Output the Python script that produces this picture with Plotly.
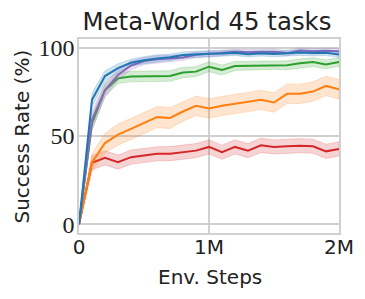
import plotly.graph_objects as go

steps = [i * 100000 for i in range(21)]

blue = [0, 70.5, 84, 88.5, 91.5, 93, 94, 94.6, 95.9, 96.4, 96.6, 96.8, 97.2, 96.4, 96.9, 96.5, 97.0, 97.3, 97.0, 97.2, 96.2]
blue_sd = [0, 4, 3, 2.5, 2, 2, 2, 1.8, 1.8, 1.8, 1.8, 1.6, 1.6, 1.6, 1.6, 1.6, 1.6, 1.6, 1.6, 1.6, 1.6]
purple = [0, 59, 76, 84.6, 90, 92.5, 93.5, 94, 94.5, 96, 96.5, 97, 97.7, 97.5, 97.6, 97.8, 97, 98.5, 98, 98.3, 98.1]
purple_sd = [0, 5, 4, 3, 2.5, 2, 2, 1.8, 1.6, 1.6, 1.5, 1.5, 1.5, 1.5, 1.5, 1.5, 1.5, 1.5, 1.5, 1.5, 1.5]
green = [0, 57.3, 76, 82.7, 83.7, 83.9, 84, 84, 86, 86.5, 89.3, 87.4, 89.7, 89.9, 90.1, 90.3, 90.1, 91.2, 91.9, 90.6, 92]
green_sd = [0, 4, 3.5, 3, 3, 3, 3, 3, 3, 2.8, 2.8, 2.8, 2.5, 2.5, 2.5, 2.5, 2.5, 2.5, 2.5, 2.5, 2.5]
orange = [0, 35, 46, 50.8, 54, 57.3, 60.7, 60.2, 63.9, 67.1, 65.6, 67.1, 68.2, 69.2, 70.5, 69, 73.9, 73.9, 75.2, 78.4, 76.5]
orange_sd = [0, 5, 5.5, 6, 6, 6, 6, 6, 5.5, 5.5, 5.5, 5.5, 5.5, 5.5, 5.5, 5.5, 5.5, 5.5, 5.5, 5.5, 5.5]
red = [0, 34.8, 37.6, 35.2, 38, 38.9, 39.9, 40, 40.8, 41.7, 43.8, 40.8, 43.8, 41.7, 44.7, 43.8, 44.2, 44.5, 44.2, 41.3, 42.7]
red_sd = [0, 4, 4, 4, 4, 4, 4, 4, 4, 4, 4, 4, 4, 4, 4, 4, 4, 4, 4, 4, 4]

x_ticks = [0, 1000000, 2000000]
x_labels = ["0", "1M", "2M"]
y_ticks = [0, 50, 100]

series = [
    (red, red_sd, "#d62728", "rgba(214,39,40,0.2)"),
    (orange, orange_sd, "#ff7f0e", "rgba(255,127,14,0.2)"),
    (green, green_sd, "#2ca02c", "rgba(44,160,44,0.2)"),
    (purple, purple_sd, "#9467bd", "rgba(148,103,189,0.2)"),
    (blue, blue_sd, "#1f77b4", "rgba(31,119,180,0.2)"),
]

fig = go.Figure()
for vals, sd, col, fcol in series:
    upper = [v + s for v, s in zip(vals, sd)]
    lower = [v - s for v, s in zip(vals, sd)]
    fig.add_trace(go.Scatter(x=steps + steps[::-1], y=upper + lower[::-1], fill="toself",
                             fillcolor=fcol, line=dict(color=fcol, width=1), mode="lines",
                             hoverinfo="skip", showlegend=False))
    fig.add_trace(go.Scatter(x=steps, y=vals, mode="lines", line=dict(color=col, width=2),
                             showlegend=False))

W, H = 357, 291
L, R, T, B = 71, 26, 31, 66
pw, ph = W - L - R, H - T - B

grid = "#d0d0d0"
txt = "#222"
fig.update_layout(
    width=W, height=H,
    margin=dict(l=L, r=R, t=T, b=B, autoexpand=False),
    plot_bgcolor="white", paper_bgcolor="white",
    title=dict(text="Meta-World 45 tasks", x=199 / W, xanchor="center", y=1 - 5 / H, yanchor="top",
               font=dict(family="DejaVu Sans", size=24.4, color=txt)),
    xaxis=dict(range=[0, 2000000], tickvals=x_ticks, ticktext=x_labels,
               showgrid=True, gridcolor=grid, gridwidth=1.5, zeroline=False, automargin=False,
               showline=True, linecolor=grid, linewidth=1.5, mirror=True, ticks="",
               ticklabelstandoff=-5,
               tickfont=dict(family="DejaVu Sans", size=20, color=txt)),
    yaxis=dict(range=[-5, 105], tickvals=y_ticks,
               showgrid=True, gridcolor=grid, gridwidth=1.5, zeroline=False, automargin=False,
               showline=True, linecolor=grid, linewidth=1.5, mirror=True, ticks="",
               ticklabelstandoff=-2,
               tickfont=dict(family="Liberation Serif", size=24, color=txt)),
    annotations=[
        dict(text="Env. Steps", xref="paper", yref="paper", x=(201.5 - L) / pw, y=(225 - 269) / ph,
             xanchor="center", yanchor="middle", showarrow=False,
             font=dict(family="DejaVu Sans", size=20, color=txt)),
        dict(text="Success Rate (%)", xref="paper", yref="paper", x=(13 - L) / pw, y=(225 - 128.5) / ph,
             xanchor="center", yanchor="middle", showarrow=False, textangle=-90,
             font=dict(family="DejaVu Sans", size=20, color=txt)),
    ],
)
fig.write_html("out.html")
